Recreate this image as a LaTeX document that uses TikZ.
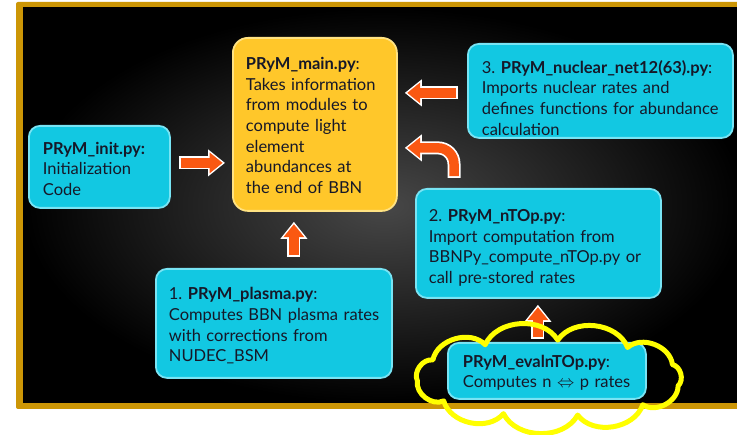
\documentclass[tikz,border=0pt]{standalone}
\usepackage{fontspec}
\setmainfont{Lato}
\usetikzlibrary{arrows.meta,calc}

\definecolor{framegold}{RGB}{204,150,6}
\definecolor{cyanfill}{RGB}{18,200,226}
\definecolor{cyanedge}{RGB}{120,228,244}
\definecolor{mainfill}{RGB}{255,199,42}
\definecolor{mainedge}{RGB}{255,226,130}
\definecolor{inkcol}{RGB}{22,24,40}
\definecolor{arroworange}{RGB}{250,88,18}
\definecolor{cloudyellow}{RGB}{255,255,0}

% block arrow: white rim drawn first, orange body on top
\newcommand\flowarrow[3]{%
  \draw[arrowrim, shorten <=#1, shorten >=#2] #3;
  \draw[arrowbody, shorten <=#1+1.8pt, shorten >=#2+2.4pt] #3;}
% heading line with extra room above it, to sit a text block lower in its box
\newcommand\headroom[2]{\raisebox{0pt}[\dimexpr\height+#1\relax]{#2}}

\begin{document}
\begin{tikzpicture}[x=1pt,y=-1pt,
  modbox/.style={draw=cyanedge, fill=cyanfill, line width=1.8pt,
    rounded corners=11pt, text=inkcol, align=left, anchor=north west,
    inner ysep=0pt, font=\fontsize{16.5pt}{20.7pt}\selectfont},
  arrowrim/.style={draw=white, line width=13pt,
    -{Triangle[width=26pt,length=17pt]}},
  arrowbody/.style={draw=arroworange, line width=9.5pt,
    -{Triangle[width=20pt,length=13pt]}}]
\useasboundingbox (0,0) rectangle (737,435);
\fill[white] (0,0) rectangle (737,435);

% framed dark board
\fill[framegold, rounded corners=2pt] (16,2) rectangle (760,409);
\shade[inner color=black!72!white, outer color=black] (23,8) rectangle (745,403);

% modules
\node[modbox, minimum width=141pt, minimum height=82pt, text width=113pt,
  inner xsep=14pt] (init) at (28,125)
  {\headroom{4pt}{\textbf{PRyM\_init.py:}}\\Initialization\\Code};
\node[modbox, draw=mainedge, fill=mainfill, rounded corners=15pt,
  minimum width=164pt, minimum height=173pt, text width=138pt,
  inner xsep=13pt] (main) at (232,37)
  {\headroom{2pt}{\textbf{PRyM\_main.py}:}\\Takes~information\\from modules to\\compute light\\element\\abundances~at\\the end of BBN};
\node[modbox, minimum width=265pt, minimum height=94pt, text width=237pt,
  inner xsep=14pt] (nuclear) at (467,43)
  {\headroom{14pt}{3.\ \textbf{PRyM\_nuclear\_net12(63).py}:}\\Imports~nuclear~rates~and\\defines~functions~for~abundance\\calculation};
\node[modbox, minimum width=245pt, minimum height=109pt, text width=219pt,
  inner xsep=13pt] (ntop) at (415,188)
  {\headroom{9pt}{2.\ \textbf{PRyM\_nTOp.py}:}\\Import~computation~from\\BBNPy\_compute\_nTOp.py~or\\call~pre-stored~rates};
\node[modbox, minimum width=236pt, minimum height=109pt, text width=210pt,
  inner xsep=13pt] (plasma) at (155,268)
  {\headroom{5pt}{1.\ \textbf{PRyM\_plasma.py}:}\\Computes~BBN~plasma~rates\\with~corrections~from\\NUDEC\_BSM};
\node[modbox, minimum width=198pt, minimum height=56pt, text width=168pt,
  inner xsep=15pt] (eval) at (447,342)
  {\headroom{4pt}{\textbf{PRyM\_evalnTOp.py}:}\\Computes~n~\(\Leftrightarrow\)~p~rates};

% data flow into the main driver
\flowarrow{8pt}{7pt}{([yshift=4pt]init.east) -- ([yshift=4pt]init.east -| main.west)}
\flowarrow{9pt}{7pt}{([yshift=-2pt]nuclear.west) -- ([yshift=-2pt]nuclear.west -| main.east)}
\flowarrow{10pt}{7pt}{([xshift=39pt]ntop.north west) [rounded corners=16pt] |- ([yshift=-23.5pt]main.east)}
\flowarrow{11pt}{10pt}{([xshift=20pt]plasma.north) -- ([xshift=20pt]plasma.north |- main.south)}
\flowarrow{3pt}{6pt}{([xshift=-9pt]eval.north) -- ([xshift=-9pt]eval.north |- ntop.south)}

% hand-drawn cloud round the n <-> p module
\coordinate (halo) at (549,378);
\draw[cloudyellow, line width=5pt, line cap=round, line join=round]
  ($(halo)+({132*cos(12)},{38*sin(12)})$)
  \foreach \k in {1,...,11} {
    to[bend left=62] ($(halo)+({132*cos(12+\k*360/11)},{38*sin(12+\k*360/11)})$)
  };
\end{tikzpicture}
\end{document}
